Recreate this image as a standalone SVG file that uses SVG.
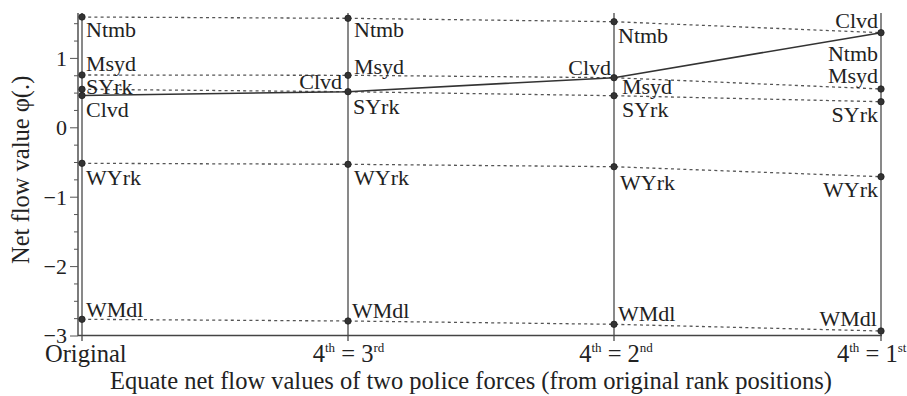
<svg xmlns="http://www.w3.org/2000/svg" width="907" height="396" viewBox="0 0 907 396">
<style>
text{font-family:"Liberation Serif","Times New Roman",serif;fill:#222}
.lbl{font-size:22px}
.tick{font-size:22px;text-anchor:end}
.ax{font-size:24.5px}
.sup{font-size:13px}
.axis{stroke:#444;stroke-width:1.4;fill:none}
.col{stroke:#4a4a4a;stroke-width:1.3;fill:none}
.tk{stroke:#555;stroke-width:1}
.dot{stroke:#555;stroke-width:1.3;stroke-dasharray:3 3.2;fill:none}
.sol{stroke:#333;stroke-width:1.6;fill:none}
circle{fill:#333;stroke:#222;stroke-width:0.8}
</style>
<rect width="907" height="396" fill="#fff"/>
<g id="axes">
<line class="axis" x1="78" y1="13" x2="78" y2="336"/>
<line class="axis" x1="78" y1="335.5" x2="882" y2="335.5" stroke-width="1.8"/>
<g class="tk">
<line x1="70" y1="58.4" x2="78" y2="58.4"/>
<line x1="70" y1="127.8" x2="78" y2="127.8"/>
<line x1="70" y1="197.2" x2="78" y2="197.2"/>
<line x1="70" y1="266.6" x2="78" y2="266.6"/>
<line x1="70" y1="336" x2="78" y2="336"/>
<line x1="74" y1="23.7" x2="78" y2="23.7"/>
<line x1="74" y1="41.05" x2="78" y2="41.05"/>
<line x1="74" y1="75.75" x2="78" y2="75.75"/>
<line x1="74" y1="93.1" x2="78" y2="93.1"/>
<line x1="74" y1="110.45" x2="78" y2="110.45"/>
<line x1="74" y1="145.15" x2="78" y2="145.15"/>
<line x1="74" y1="162.5" x2="78" y2="162.5"/>
<line x1="74" y1="179.85" x2="78" y2="179.85"/>
<line x1="74" y1="214.55" x2="78" y2="214.55"/>
<line x1="74" y1="231.9" x2="78" y2="231.9"/>
<line x1="74" y1="249.25" x2="78" y2="249.25"/>
<line x1="74" y1="283.95" x2="78" y2="283.95"/>
<line x1="74" y1="301.3" x2="78" y2="301.3"/>
<line x1="74" y1="318.65" x2="78" y2="318.65"/>
</g>
<text class="tick" x="67" y="65.5">1</text>
<text class="tick" x="67" y="135">0</text>
<text class="tick" x="67" y="204.5">−1</text>
<text class="tick" x="67" y="274">−2</text>
<text class="tick" x="67" y="343">−3</text>
<text font-size="24.5" transform="translate(29,264) rotate(-90)">Net flow value φ(.)</text>
<text class="ax" x="45" y="362">Original</text>
<text class="ax" x="348.5" y="362" text-anchor="middle">4<tspan class="sup" dy="-10">th</tspan><tspan dy="10"> = 3</tspan><tspan class="sup" dy="-10">rd</tspan></text>
<text class="ax" x="616" y="362" text-anchor="middle">4<tspan class="sup" dy="-10">th</tspan><tspan dy="10"> = 2</tspan><tspan class="sup" dy="-10">nd</tspan></text>
<text class="ax" x="837" y="362">4<tspan class="sup" dy="-10">th</tspan><tspan dy="10"> = 1</tspan><tspan class="sup" dy="-10">st</tspan></text>
<text class="ax" x="110" y="388.5" font-size="25">Equate net flow values of two police forces (from original rank positions)</text>
</g>
<g id="columns">
<line class="col" x1="82" y1="13" x2="82" y2="341"/>
<line class="col" x1="348" y1="13" x2="348" y2="341"/>
<line class="col" x1="614" y1="13" x2="614" y2="341"/>
<line class="col" x1="881" y1="13" x2="881" y2="341"/>
</g>
<g id="connectors">
<polyline class="dot" points="82,17 348,18.3 614,21.7 881,32.7"/>
<polyline class="dot" points="82,75 348,75.3 614,77.7 881,89"/>
<polyline class="dot" points="82,89.3 348,91.7 614,95.7 881,101.7"/>
<polyline class="dot" points="82,163.3 348,164.3 614,166.7 881,176.7"/>
<polyline class="dot" points="82,319.3 348,321 614,324.3 881,331"/>
<polyline class="sol" points="82,95.5 348,91.7 614,77.7 881,32.7"/>
</g>
<g id="ntmb">
<circle cx="82" cy="17" r="3.2"/><circle cx="348" cy="18.3" r="3.2"/><circle cx="614" cy="21.7" r="3.2"/>
<text class="lbl" x="86" y="37">Ntmb</text>
<text class="lbl" x="354" y="37">Ntmb</text>
<text class="lbl" x="618" y="43">Ntmb</text>
<text class="lbl" x="878" y="61" text-anchor="end">Ntmb</text>
</g>
<g id="msyd">
<circle cx="82" cy="75" r="3.2"/><circle cx="348" cy="75.3" r="3.2"/><circle cx="881" cy="89" r="3.2"/>
<text class="lbl" x="86" y="71">Msyd</text>
<text class="lbl" x="354" y="73.5">Msyd</text>
<text class="lbl" x="622" y="93.5">Msyd</text>
<text class="lbl" x="878" y="83" text-anchor="end">Msyd</text>
</g>
<g id="syrk">
<circle cx="82" cy="89.3" r="3.2"/><circle cx="614" cy="95.7" r="3.2"/><circle cx="881" cy="101.7" r="3.2"/>
<text class="lbl" x="86" y="93.5">SYrk</text>
<text class="lbl" x="353" y="113.5">SYrk</text>
<text class="lbl" x="622" y="116.5">SYrk</text>
<text class="lbl" x="878" y="121.5" text-anchor="end">SYrk</text>
</g>
<g id="clvd">
<circle cx="82" cy="95.5" r="3.2"/><circle cx="348" cy="91.7" r="3.2"/><circle cx="614" cy="77.7" r="3.2"/><circle cx="881" cy="32.7" r="3.2"/>
<text class="lbl" x="86" y="116.5">Clvd</text>
<text class="lbl" x="342" y="89" text-anchor="end">Clvd</text>
<text class="lbl" x="611" y="74.5" text-anchor="end">Clvd</text>
<text class="lbl" x="878" y="28" text-anchor="end">Clvd</text>
</g>
<g id="wyrk">
<circle cx="82" cy="163.3" r="3.2"/><circle cx="348" cy="164.3" r="3.2"/><circle cx="614" cy="166.7" r="3.2"/><circle cx="881" cy="176.7" r="3.2"/>
<text class="lbl" x="86" y="185">WYrk</text>
<text class="lbl" x="354" y="185">WYrk</text>
<text class="lbl" x="620" y="190">WYrk</text>
<text class="lbl" x="878" y="196.5" text-anchor="end">WYrk</text>
</g>
<g id="wmdl">
<circle cx="82" cy="319.3" r="3.2"/><circle cx="348" cy="321" r="3.2"/><circle cx="614" cy="324.3" r="3.2"/><circle cx="881" cy="331" r="3.2"/>
<text class="lbl" x="86" y="317">WMdl</text>
<text class="lbl" x="352" y="318">WMdl</text>
<text class="lbl" x="618" y="321">WMdl</text>
<text class="lbl" x="877" y="326" text-anchor="end">WMdl</text>
</g>
</svg>
